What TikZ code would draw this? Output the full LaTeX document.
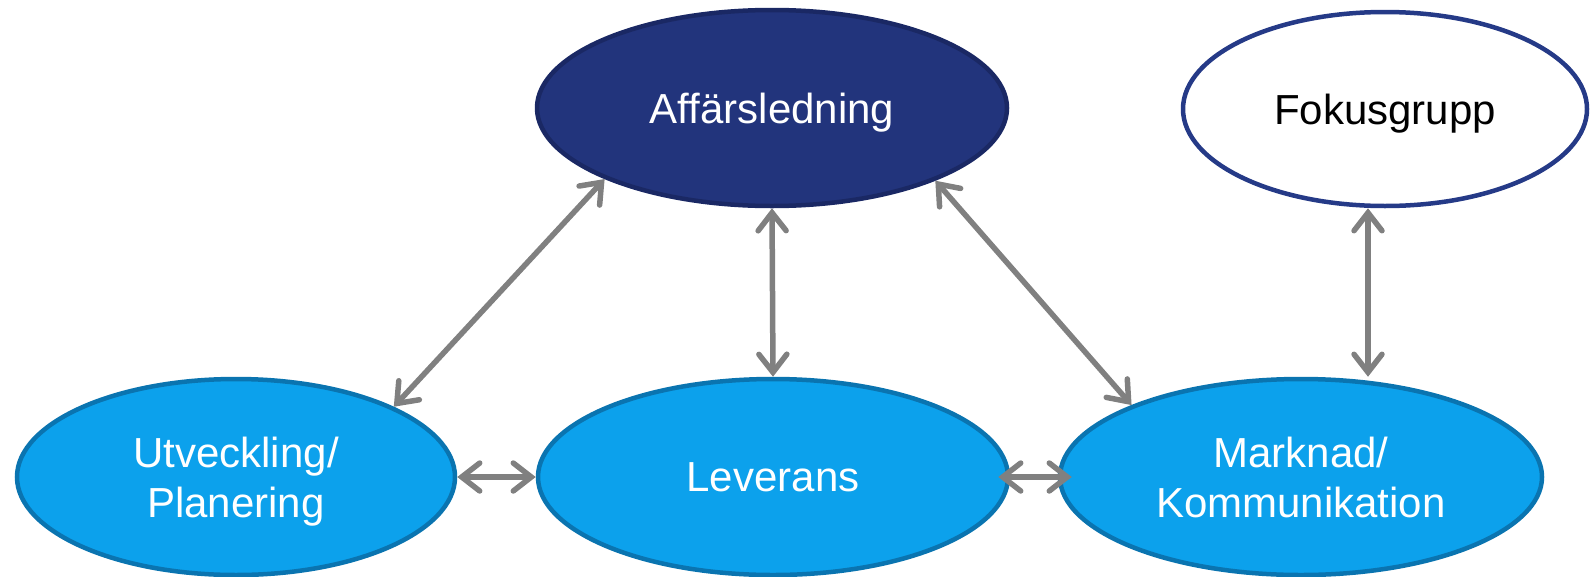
\documentclass[tikz,border=0pt]{standalone}
\usepackage{fontspec}
\setmainfont{Liberation Sans}
\usetikzlibrary{shapes.geometric,arrows.meta}
\definecolor{navyfill}{HTML}{22347C}
\definecolor{navyline}{HTML}{1A2864}
\definecolor{fokline}{HTML}{253A87}
\definecolor{skyfill}{HTML}{0CA1EC}
\definecolor{skyline}{HTML}{0A74B0}
\definecolor{arrowgray}{HTML}{808080}
\tikzset{
  bubble/.style={ellipse, inner sep=0pt, line width=4.5pt, align=center,
    text depth=0pt, font=\fontsize{42}{50}\selectfont},
  lead/.style={bubble, fill=navyfill, draw=navyline, text=white},
  focus/.style={bubble, fill=white, draw=fokline, text=black},
  unit/.style={bubble, fill=skyfill, draw=skyline, text=white},
  link/.style={draw=arrowgray, line width=5.5pt, line cap=round,
    {Straight Barb[length=18pt,width=28pt,line cap=round]}-{Straight Barb[length=18pt,width=28pt,line cap=round]}}
}
\begin{document}
\begin{tikzpicture}[x=1pt,y=-1pt]
\useasboundingbox (0,0) rectangle (1596,576);
\node[lead,  minimum width=470pt, minimum height=196pt] (aff) at (772,108) {Affärsledning};
\node[focus, minimum width=404pt, minimum height=194pt] (fok) at (1385,109) {Fokusgrupp};
\node[unit,  minimum width=438pt, minimum height=196pt] (utv) at (236,477) {Utveckling/\\Planering};
\node[unit,  minimum width=470pt, minimum height=196pt] (lev) at (773,477) {Leverans};
\node[unit,  minimum width=482pt, minimum height=196pt] (mar) at (1301,477) {Marknad/\\Kommunikation};
\coordinate (fm) at (1368,0);
\draw[link] (aff.203) -- (utv.24.5);
\draw[link] (aff.south) -- (lev.north);
\draw[link] (aff.336.8) -- (mar.157.2);
\draw[link] (fm |- fok.south) -- (fm |- mar.north);
\draw[link] (utv.east) -- (lev.west);
\draw[link, shorten <=-12pt, shorten >=-14pt] (lev.east) -- (mar.west);
\end{tikzpicture}
\end{document}
